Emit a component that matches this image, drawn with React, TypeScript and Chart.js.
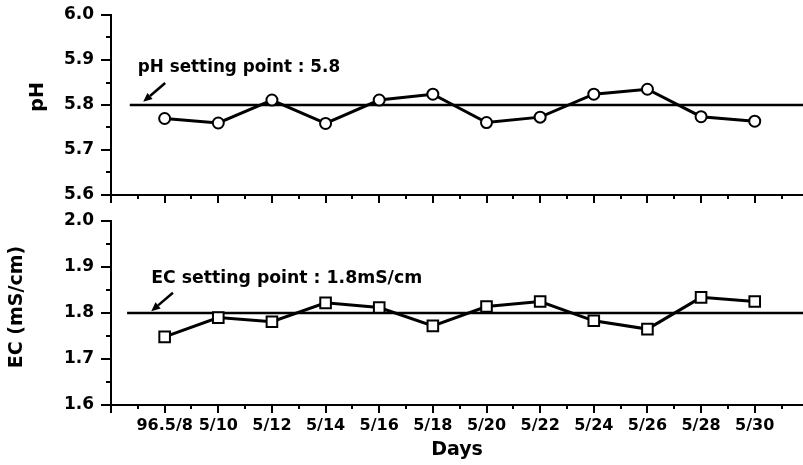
import React, { useEffect, useRef } from 'react';
import { Chart, registerables } from 'chart.js';

Chart.register(...registerables);

const days = ['96.5/8', '5/10', '5/12', '5/14', '5/16', '5/18', '5/20', '5/22', '5/24', '5/26', '5/28', '5/30'];
const phValues = [5.77, 5.76, 5.811, 5.759, 5.811, 5.824, 5.761, 5.773, 5.824, 5.835, 5.774, 5.764];
const ecValues = [1.748, 1.79, 1.781, 1.822, 1.812, 1.772, 1.814, 1.825, 1.783, 1.765, 1.834, 1.825];
const phTicks = [5.6, 5.7, 5.8, 5.9, 6.0];
const ecTicks = [1.6, 1.7, 1.8, 1.9, 2.0];
const phMinorTicks = [5.65, 5.75, 5.85, 5.95];
const ecMinorTicks = [1.65, 1.75, 1.85, 1.95];
const phSetPoint = 5.8;
const ecSetPoint = 1.8;
const phLabel = 'pH setting point : 5.8';
const ecLabel = 'EC setting point : 1.8mS/cm';

const X_MIN = -1;
const X_MAX = 11.9;
const xMajor = [-1, ...days.map((_, i) => i)];
const xMinor = [...days.map((_, i) => i - 0.5), days.length - 0.5];

const FONT = "'DejaVu Sans', 'Liberation Sans', Arial, sans-serif";
const W = 803;
const H = 465;

const minorTicksPlugin = {
  id: 'minorTicks',
  afterDraw(chart: any, _args: any, opts: any) {
    const { ctx, chartArea } = chart;
    const x = chart.scales.x;
    const y = chart.scales.y;
    ctx.save();
    ctx.strokeStyle = '#000';
    ctx.lineWidth = 2;
    ctx.beginPath();
    for (const v of opts.x || []) {
      const px = Math.round(x.getPixelForValue(v));
      ctx.moveTo(px, chartArea.bottom);
      ctx.lineTo(px, chartArea.bottom + opts.xLen);
    }
    for (const v of opts.y || []) {
      const py = Math.round(y.getPixelForValue(v));
      ctx.moveTo(chartArea.left, py);
      ctx.lineTo(chartArea.left - opts.yLen, py);
    }
    ctx.stroke();
    ctx.restore();
  },
};

const annotationPlugin = {
  id: 'setAnnot',
  afterDatasetsDraw(chart: any, _args: any, opts: any) {
    const { ctx } = chart;
    const x = chart.scales.x;
    const y = chart.scales.y;
    ctx.save();
    ctx.fillStyle = '#000';
    ctx.strokeStyle = '#000';
    ctx.font = `bold ${opts.fontSize}px ${FONT}`;
    ctx.textBaseline = 'alphabetic';
    ctx.textAlign = 'left';
    ctx.fillText(opts.text, x.getPixelForValue(opts.textAt[0]), y.getPixelForValue(opts.textAt[1]));
    // arrow
    const x1 = x.getPixelForValue(opts.arrowFrom[0]);
    const y1 = y.getPixelForValue(opts.arrowFrom[1]);
    const x2 = x.getPixelForValue(opts.arrowTo[0]);
    const y2 = y.getPixelForValue(opts.arrowTo[1]);
    const ang = Math.atan2(y2 - y1, x2 - x1);
    const headLen = 9;
    const headW = 4;
    const bx = x2 - headLen * Math.cos(ang);
    const by = y2 - headLen * Math.sin(ang);
    ctx.lineWidth = 2.5;
    ctx.beginPath();
    ctx.moveTo(x1, y1);
    ctx.lineTo(bx, by);
    ctx.stroke();
    ctx.beginPath();
    ctx.moveTo(x2, y2);
    ctx.lineTo(bx + headW * Math.sin(ang), by - headW * Math.cos(ang));
    ctx.lineTo(bx - headW * Math.sin(ang), by + headW * Math.cos(ang));
    ctx.closePath();
    ctx.fill();
    // rotated y-axis title
    ctx.save();
    ctx.font = `bold ${opts.titleSize}px ${FONT}`;
    ctx.textAlign = 'center';
    ctx.textBaseline = 'middle';
    ctx.translate(opts.titleX, y.getPixelForValue(opts.titleAt));
    ctx.rotate(-Math.PI / 2);
    ctx.fillText(opts.title, 0, 0);
    ctx.restore();
    ctx.restore();
  },
};

function makeConfig(p: {
  values: number[];
  setPoint: number;
  setStart: number;
  yMin: number;
  yMax: number;
  yTicks: number[];
  yMinor: number[];
  top: number;
  bottom: number;
  showLabels: boolean;
  pointStyle: string;
  pointRadius: number;
  annot: any;
}) {
  return {
    type: 'line',
    data: {
      datasets: [
        {
          data: p.values.map((v, i) => ({ x: i, y: v })),
          borderColor: '#000',
          borderWidth: 3,
          pointStyle: p.pointStyle,
          pointRadius: p.pointRadius,
          pointBorderWidth: 2,
          pointBorderColor: '#000',
          pointBackgroundColor: '#fff',
          tension: 0,
        },
        {
          data: [
            { x: p.setStart, y: p.setPoint },
            { x: X_MAX, y: p.setPoint },
          ],
          borderColor: '#000',
          borderWidth: 2.5,
          pointRadius: 0,
          tension: 0,
        },
      ],
    },
    options: {
      responsive: false,
      animation: false,
      devicePixelRatio: 1,
      layout: { autoPadding: false, padding: { top: p.top, left: 0, right: 0, bottom: 0 } },
      plugins: {
        legend: { display: false },
        tooltip: { enabled: false },
        title: { display: false },
        minorTicks: { x: xMinor, y: p.yMinor, xLen: 4, yLen: 5 },
        setAnnot: p.annot,
      },
      scales: {
        x: {
          type: 'linear',
          min: X_MIN,
          max: X_MAX,
          afterBuildTicks: (scale: any) => {
            scale.ticks = xMajor.map((v) => ({ value: v }));
          },
          afterFit: (scale: any) => {
            scale.height = H - p.bottom;
            scale.paddingLeft = 0;
            scale.paddingRight = 0;
          },
          ticks: {
            autoSkip: false,
            maxRotation: 0,
            minRotation: 0,
            padding: 3,
            color: '#000',
            font: { family: FONT, size: 16, weight: 'bold' },
            callback: (v: number) => (p.showLabels && v >= 0 ? days[v] ?? '' : ''),
          },
          grid: {
            display: true,
            drawOnChartArea: false,
            drawTicks: true,
            tickLength: 8,
            color: '#000',
            lineWidth: 2,
          },
          border: { display: true, color: '#000', width: 2 },
          title: {
            display: p.showLabels,
            text: 'Days',
            color: '#000',
            font: { family: FONT, size: 19, weight: 'bold' },
            padding: { top: 0, bottom: 4 },
          },
        },
        y: {
          type: 'linear',
          min: p.yMin,
          max: p.yMax,
          afterBuildTicks: (scale: any) => {
            scale.ticks = p.yTicks.map((v) => ({ value: v }));
          },
          afterFit: (scale: any) => {
            scale.width = 111;
            scale.paddingTop = 0;
            scale.paddingBottom = 0;
          },
          ticks: {
            padding: 7,
            color: '#000',
            font: { family: FONT, size: 17, weight: 'bold' },
            callback: (v: number) => v.toFixed(1),
          },
          grid: {
            display: true,
            drawOnChartArea: false,
            drawTicks: true,
            tickLength: 10,
            color: '#000',
            lineWidth: 2,
          },
          border: { display: true, color: '#000', width: 2 },
        },
      },
    },
    plugins: [minorTicksPlugin, annotationPlugin],
  };
}

export default function App() {
  const topRef = useRef<HTMLCanvasElement | null>(null);
  const botRef = useRef<HTMLCanvasElement | null>(null);

  useEffect(() => {
    Chart.defaults.font.family = FONT;
    Chart.defaults.color = '#000';
    const top = new Chart(
      topRef.current as HTMLCanvasElement,
      makeConfig({
        values: phValues,
        setPoint: phSetPoint,
        setStart: -0.65,
        yMin: 5.6,
        yMax: 6.0,
        yTicks: phTicks,
        yMinor: phMinorTicks,
        top: 15,
        bottom: 195,
        showLabels: false,
        pointStyle: 'circle',
        pointRadius: 5.5,
        annot: {
          text: phLabel,
          textAt: [-0.5, 5.873],
          arrowFrom: [0.01, 5.849],
          arrowTo: [-0.4, 5.807],
          fontSize: 16.8,
          title: 'pH',
          titleX: 38,
          titleAt: 5.818,
          titleSize: 19,
        },
      }) as any
    );
    const bot = new Chart(
      botRef.current as HTMLCanvasElement,
      makeConfig({
        values: ecValues,
        setPoint: ecSetPoint,
        setStart: -0.7,
        yMin: 1.6,
        yMax: 2.0,
        yTicks: ecTicks,
        yMinor: ecMinorTicks,
        top: 221,
        bottom: 405,
        showLabels: true,
        pointStyle: 'rect',
        pointRadius: 7.5,
        annot: {
          text: ecLabel,
          textAt: [-0.25, 1.8656],
          arrowFrom: [0.155, 1.844],
          arrowTo: [-0.25, 1.804],
          fontSize: 17.3,
          title: 'EC (mS/cm)',
          titleX: 17,
          titleAt: 1.813,
          titleSize: 19,
        },
      }) as any
    );
    return () => {
      top.destroy();
      bot.destroy();
    };
  }, []);

  const boxStyle: React.CSSProperties = { position: 'absolute', left: 0, top: 0, width: W, height: H };
  return (
    <div style={{ position: 'fixed', left: 0, top: 0, width: W, height: H, background: '#fff' }}>
      <div style={boxStyle}>
        <canvas ref={topRef} width={W} height={H} style={{ width: W, height: H, display: 'block' }} />
      </div>
      <div style={boxStyle}>
        <canvas ref={botRef} width={W} height={H} style={{ width: W, height: H, display: 'block' }} />
      </div>
    </div>
  );
}
